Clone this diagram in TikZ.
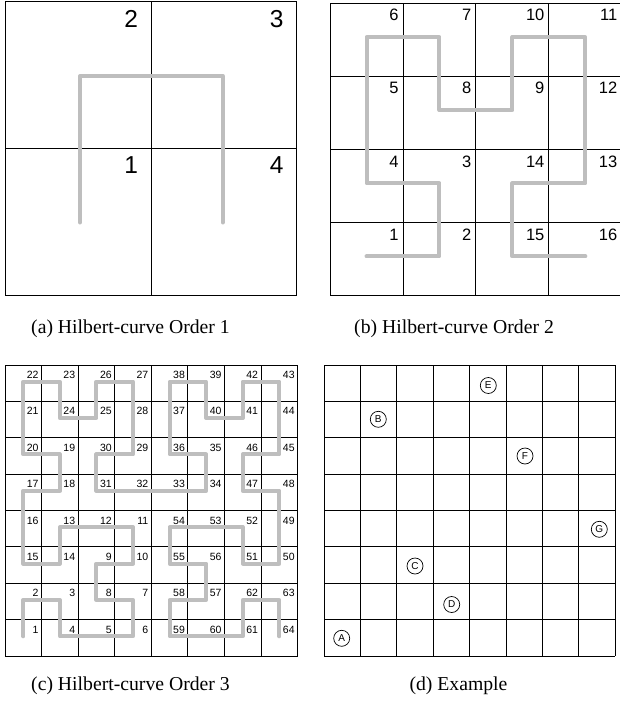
\documentclass[tikz,border=0pt]{standalone}
\usepackage{fontspec}
\setmainfont{Liberation Serif}
\setsansfont{Liberation Sans}
\definecolor{curvegray}{RGB}{190,190,190}
\begin{document}
\begin{tikzpicture}[x=1pt,y=-1pt,
  gridline/.style={black, line width=0.9pt},
  hcurve/.style={draw=curvegray, line width=4pt, line cap=round, line join=round},
  numA/.style={font=\sffamily\fontsize{24.5}{24.5}\selectfont, anchor=base east, inner sep=0pt},
  numB/.style={font=\sffamily\fontsize{16.5}{16.5}\selectfont, anchor=base east, inner sep=0pt},
  numC/.style={font=\sffamily\fontsize{10.5}{10.5}\selectfont, anchor=base east, inner sep=0pt},
  circlab/.style={draw, circle, line width=0.7pt, minimum size=16pt, inner sep=0pt, font=\sffamily\fontsize{10}{10}\selectfont},
  captext/.style={font=\fontsize{19.7}{19.7}\selectfont, anchor=base west, inner sep=0pt}]
\useasboundingbox (0,0) rectangle (619,706);

% ---------- (a) ----------
\draw[gridline] (5.7,1.8) rectangle (296.8,295);
\draw[gridline] (151.2,1.8) -- (151.2,295);
\draw[gridline] (5.7,148.4) -- (296.8,148.4);
\draw[hcurve] (80,222.5) -- (80,76) -- (222.7,76) -- (222.7,222.5);
\node[numA] (a2) at (138.2,27.3) {2};
\node[numA] (a3) at (283.8,27.3) {3};
\node[numA] (a1) at (138.2,173.9) {1};
\node[numA] (a4) at (283.8,173.9) {4};
\node[captext] (capa) at (31,333) {(a) Hilbert-curve Order 1};

% ---------- (b) ----------
\foreach \k in {0,...,4} {
  \draw[gridline] ({330+\k*72.95},3.5) -- ({330+\k*72.95},295.9);
  \draw[gridline] (330,{3.5+\k*73.1}) -- (621.8,{3.5+\k*73.1});
}
\foreach \row [count=\j from 0] in {{6,7,10,11},{5,8,9,12},{4,3,14,13},{1,2,15,16}} {
  \foreach \n [count=\i from 1] in \row {
    \node[numB] (b\n) at ({330+\i*72.95-4.3},{3.5+\j*73.1+17.4}) {\n};
  }
}
\begin{scope}[shift={(366.5,37.1)}, x=72.95pt, y=-73.1pt]
  \draw[hcurve] (0,3) -- (1,3) -- (1,2) -- (0,2) -- (0,0) -- (1,0) -- (1,1) -- (2,1)
    -- (2,0) -- (3,0) -- (3,2) -- (2,2) -- (2,3) -- (3,3);
\end{scope}
\node[captext] (capb) at (354,333) {(b) Hilbert-curve Order 2};

% ---------- (c) ----------
\foreach \k in {0,...,8} {
  \draw[gridline] ({5+\k*36.58},365) -- ({5+\k*36.58},656);
  \draw[gridline] (5,{365+\k*36.375}) -- (297.6,{365+\k*36.375});
}
\foreach \row [count=\j from 0] in {
  {22,23,26,27,38,39,42,43},
  {21,24,25,28,37,40,41,44},
  {20,19,30,29,36,35,46,45},
  {17,18,31,32,33,34,47,48},
  {16,13,12,11,54,53,52,49},
  {15,14,9,10,55,56,51,50},
  {2,3,8,7,58,57,62,63},
  {1,4,5,6,59,60,61,64}} {
  \foreach \n [count=\i from 1] in \row {
    \node[numC] (c\n) at ({5+\i*36.58-2.8},{365+\j*36.375+13.5}) {\n};
  }
}
\begin{scope}[shift={(23.3,636.3)}, x=36.58pt, y=36.375pt]
  \draw[hcurve] (0,0) -- (0,1) -- (1,1) -- (1,0) -- (2,0) -- (3,0) -- (3,1) -- (2,1)
    -- (2,2) -- (3,2) -- (3,3) -- (2,3) -- (1,3) -- (1,2) -- (0,2) -- (0,3)
    -- (0,4) -- (1,4) -- (1,5) -- (0,5) -- (0,6) -- (0,7) -- (1,7) -- (1,6)
    -- (2,6) -- (2,7) -- (3,7) -- (3,6) -- (3,5) -- (2,5) -- (2,4) -- (3,4)
    -- (4,4) -- (5,4) -- (5,5) -- (4,5) -- (4,6) -- (4,7) -- (5,7) -- (5,6)
    -- (6,6) -- (6,7) -- (7,7) -- (7,6) -- (7,5) -- (6,5) -- (6,4) -- (7,4)
    -- (7,3) -- (7,2) -- (6,2) -- (6,3) -- (5,3) -- (4,3) -- (4,2) -- (5,2)
    -- (5,1) -- (4,1) -- (4,0) -- (5,0) -- (6,0) -- (6,1) -- (7,1) -- (7,0);
\end{scope}
\node[captext] (capc) at (31,690) {(c) Hilbert-curve Order 3};

% ---------- (d) ----------
\foreach \k in {0,...,8} {
  \draw[gridline, line width=1pt] ({324+\k*36.41},365) -- ({324+\k*36.41},656);
  \draw[gridline, line width=1pt] (324,{365+\k*36.375}) -- (615.3,{365+\k*36.375});
}
\node[circlab] (A) at (341.7,638.3) {A};
\node[circlab] (B) at (378.3,419.3) {B};
\node[circlab] (C) at (415,566) {C};
\node[circlab] (D) at (451.7,604.5) {D};
\node[circlab] (E) at (488.3,385.5) {E};
\node[circlab] (F) at (525,456) {F};
\node[circlab] (G) at (599.3,529.3) {G};
\node[captext] (capd) at (409.3,690) {(d) Example};
\end{tikzpicture}
\end{document}
